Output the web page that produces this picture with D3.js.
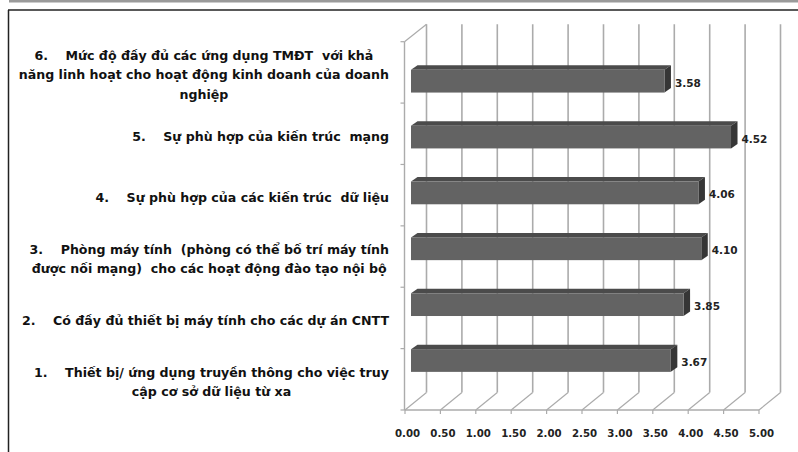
<!DOCTYPE html>
<html>
<head>
<meta charset="utf-8">
<script src="https://cdn.jsdelivr.net/npm/d3@7"></script>
<style>
  html, body { margin: 0; padding: 0; background: #fff; }
  svg { display: block; }
  text { white-space: pre; }
</style>
</head>
<body>
<svg id="chart" width="798" height="452"></svg>
<script>
// Category labels (top to bottom in the chart), already split into lines
const categories = [
  ["6.    Mức độ đầy đủ các ứng dụng TMĐT  với khả",
   "năng linh hoạt cho hoạt động kinh doanh của doanh",
   "nghiệp"],
  ["5.    Sự phù hợp của kiến trúc  mạng"],
  ["4.    Sự phù hợp của các kiến trúc  dữ liệu"],
  ["3.    Phòng máy tính  (phòng có thể bố trí máy tính",
   "được nối mạng)  cho các hoạt động đào tạo nội bộ"],
  ["2.    Có đầy đủ thiết bị máy tính cho các dự án CNTT"],
  ["1.    Thiết bị/ ứng dụng truyền thông cho việc truy",
   "cập cơ sở dữ liệu từ xa"]
];
const values = [3.58, 4.52, 4.06, 4.10, 3.85, 3.67];
const xTicks = [0, 0.5, 1, 1.5, 2, 2.5, 3, 3.5, 4, 4.5, 5];

const svg = d3.select("#chart");
const font = "'DejaVu Sans', Verdana, sans-serif";

// frame around the figure
svg.append("rect").attr("x", 9).attr("y", 0).attr("width", 789).attr("height", 2.5).attr("fill", "#9a9a9a");
svg.append("line").attr("x1", 8).attr("x2", 798).attr("y1", 10).attr("y2", 10)
  .attr("stroke", "#222").attr("stroke-width", 1.5);
svg.append("line").attr("x1", 8.5).attr("x2", 8.5).attr("y1", 10).attr("y2", 452)
  .attr("stroke", "#222").attr("stroke-width", 1.5);

// front plane of the 3D plot and the depth offset of the back wall
const front = { left: 405, right: 759, top: 41.7, bottom: 410 };
const depth = { dx: 21.5, dy: -17.5 };

const x = d3.scaleLinear().domain([0, 5]).range([front.left, front.right]);
const idx = d3.range(categories.length);
const y = d3.scaleBand().domain(idx).range([front.top, front.bottom]).padding(0.593);
const yStep = d3.scaleBand().domain(idx).range([front.top, front.bottom]);

const grid = "#ababab";

// back wall gridlines
svg.append("g").selectAll("line").data(xTicks).join("line")
  .attr("x1", d => x(d) + depth.dx).attr("x2", d => x(d) + depth.dx)
  .attr("y1", front.top + depth.dy).attr("y2", front.bottom + depth.dy)
  .attr("stroke", grid).attr("stroke-width", 1.6);

// floor diagonals
svg.append("g").selectAll("line").data(xTicks).join("line")
  .attr("x1", d => x(d)).attr("x2", d => x(d) + depth.dx)
  .attr("y1", front.bottom).attr("y2", front.bottom + depth.dy)
  .attr("stroke", grid).attr("stroke-width", 1.2);

// left wall top edge
svg.append("line")
  .attr("x1", front.left - 0.5).attr("y1", front.top)
  .attr("x2", front.left + depth.dx).attr("y2", front.top + depth.dy)
  .attr("stroke", grid).attr("stroke-width", 1.2);

// category axis (vertical) with outward ticks at band boundaries
svg.append("line").attr("x1", front.left - 0.5).attr("x2", front.left - 0.5)
  .attr("y1", front.top).attr("y2", front.bottom)
  .attr("stroke", grid).attr("stroke-width", 1.4);
svg.append("g").selectAll("line").data(d3.range(categories.length + 1)).join("line")
  .attr("x1", front.left - 4.5).attr("x2", front.left - 0.5)
  .attr("y1", i => front.top + i * yStep.step()).attr("y2", i => front.top + i * yStep.step())
  .attr("stroke", grid).attr("stroke-width", 1.2);

// value axis (front floor edge) with ticks
svg.append("line").attr("x1", front.left - 0.5).attr("x2", front.right)
  .attr("y1", front.bottom).attr("y2", front.bottom)
  .attr("stroke", grid).attr("stroke-width", 1.4);
svg.append("g").selectAll("line").data(xTicks).join("line")
  .attr("x1", d => x(d)).attr("x2", d => x(d))
  .attr("y1", front.bottom).attr("y2", front.bottom + 4)
  .attr("stroke", grid).attr("stroke-width", 1.2);
svg.append("g").selectAll("text").data(xTicks).join("text")
  .attr("x", d => x(d) + 2.5).attr("y", 433.5)
  .attr("text-anchor", "middle").attr("dominant-baseline", "central")
  .attr("font-family", font).attr("font-weight", "bold").attr("font-size", 10.2)
  .attr("fill", "#222")
  .text(d => d3.format(".2f")(d));

// 3D bars: front face sits part way into the depth, with a shallow top and side face
const barOff = { dx: 6, dy: -5 };
const barDepth = { dx: 6.5, dy: -4.5 };
const bars = svg.append("g").selectAll("g").data(values).join("g");
bars.append("path")  // top face
  .attr("d", (d, i) => {
    const x0 = x(0) + barOff.dx, x1 = x(d) + barOff.dx, t = y(i) + barOff.dy;
    return `M${x0},${t}L${x0 + barDepth.dx},${t + barDepth.dy}L${x1 + barDepth.dx},${t + barDepth.dy}L${x1},${t}Z`;
  })
  .attr("fill", "#4b4b4b");
bars.append("path")  // side face
  .attr("d", (d, i) => {
    const x1 = x(d) + barOff.dx, t = y(i) + barOff.dy, b = t + y.bandwidth();
    return `M${x1},${t}L${x1 + barDepth.dx},${t + barDepth.dy}L${x1 + barDepth.dx},${b + barDepth.dy}L${x1},${b}Z`;
  })
  .attr("fill", "#363636");
bars.append("rect")  // front face
  .attr("x", x(0) + barOff.dx)
  .attr("y", (d, i) => y(i) + barOff.dy)
  .attr("width", d => x(d) - x(0))
  .attr("height", y.bandwidth())
  .attr("fill", "#636363");

// value labels
svg.append("g").selectAll("text").data(values).join("text")
  .attr("x", d => x(d) + barOff.dx + 10.5)
  .attr("y", (d, i) => y(i) + barOff.dy + y.bandwidth() / 2 + 1.5)
  .attr("dominant-baseline", "central")
  .attr("font-family", font).attr("font-weight", "bold").attr("font-size", 10.5)
  .attr("fill", "#222")
  .text(d => d3.format(".2f")(d));

// category labels: each line centred inside a block that is right-aligned to the axis
const labelRight = 389;
const lineH = 19.5;
categories.forEach((lines, i) => {
  const g = svg.append("g");
  const texts = g.selectAll("text").data(lines).join("text")
    .attr("font-family", font).attr("font-weight", "bold").attr("font-size", 12.6)
    .attr("fill", "#111").attr("text-anchor", "middle").attr("dominant-baseline", "central")
    .text(d => d);
  const widest = d3.max(texts.nodes(), n => n.getComputedTextLength());
  const cy = yStep(i) + yStep.bandwidth() / 2 + 2.5;
  texts.attr("x", labelRight - widest / 2)
    .attr("y", (d, j) => cy + (j - (lines.length - 1) / 2) * lineH);
});
</script>
</body>
</html>
